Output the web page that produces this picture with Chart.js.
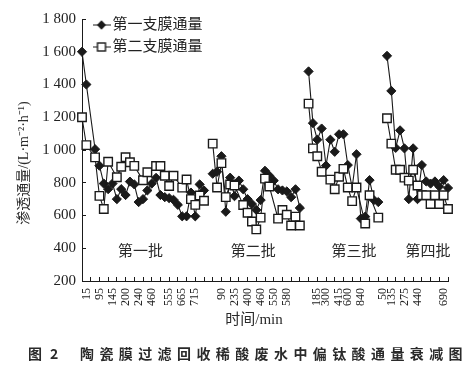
<!DOCTYPE html>
<html>
<head>
<meta charset="utf-8">
<script src="https://cdn.jsdelivr.net/npm/chart.js@4.4.1/dist/chart.umd.min.js"></script>
<style>
html, body { margin: 0; padding: 0; background: #fff; }
#wrap { width: 469px; height: 375px; }
</style>
</head>
<body>
<div id="wrap"><canvas id="fluxChart" width="469" height="375"></canvas></div>
<script>
// series names and batch names
const seriesNames = ['第一支膜通量', '第二支膜通量'];
const batchNames = ['第一批', '第二批', '第三批', '第四批'];

// time labels shown under each batch (min)
const batchTimes = [
    ['15', '95', '145', '200', '240', '460', '555', '665', '715'],
    ['90', '235', '400', '460', '550', '580'],
    ['185', '300', '415', '600', '840'],
    ['50', '135', '275', '440', '690']
];

// flux of membrane 1, L/(m2*h), one array per batch
const flux1Batch1 = [1600, 1400, null, 1005, 904, 795, 761, 795, 700, 761, 725, 807, 790, 682, 700, 753, 795, 830, 725, 712, 706, 696, 665, 595, 595, 740, 595, 790, 753];
const flux1Batch2 = [855, 867, 962, 623, 831, 718, 813, 760, 700, 670, 634, 694, 873, 843, 813, 760, 753, 747, 712, 760, 646];
const flux1Batch3 = [1480, 1164, 1063, 1131, 905, 1063, 989, 1096, 1096, 908, 771, 974, 581, 593, 816, 694, 682];
const flux1Batch4 = [1575, 1361, 1013, 1120, 1010, 700, 1010, 700, 908, 808, 795, 808, 777, 816, 768];

// flux of membrane 2
const flux2Batch1 = [1200, 1030, null, 955, 720, 640, 928, null, 834, 898, 956, 925, 903, null, 815, 864, null, 902, 902, 843, 780, 843, null, 770, 820, 700, 665, 722, 690];
const flux2Batch2 = [1039, 771, 920, 712, 789, 783, null, 664, 617, 563, 515, 587, 825, 777, null, 581, 634, 605, 539, 593, 539];
const flux2Batch3 = [1283, 1010, 962, 867, null, 819, 760, 837, 885, 771, 688, 771, null, 551, 724, null, 587];
const flux2Batch4 = [1194, 1039, 879, 879, 831, 813, 879, 783, 724, 724, 670, 724, 670, 724, 640];

const yTicks = [200, 400, 600, 800, 1000, 1200, 1400, 1600, 1800];

const xTitle = '时间/min';
const yTitle = '渗透通量/(L·m⁻²·h⁻¹)';
const figureNo = ['图', '2'];
const captionText = '陶瓷膜过滤回收稀酸废水中偏钛酸通量衰减图';

const flux1 = [flux1Batch1, flux1Batch2, flux1Batch3, flux1Batch4];
const flux2 = [flux2Batch1, flux2Batch2, flux2Batch3, flux2Batch4];

// batches sit on one category axis, one empty category between them
const starts = [];
let total = 0;
flux1.forEach((arr, b) => {
    if (b > 0) total += 1;
    starts.push(total);
    total += arr.length;
});

// where the time labels fall inside each batch (category offsets)
const labelSlots = [
    [1, 4, 7, 10, 13, 16, 20, 23, 26],
    [2, 5, 8, 11, 14, 17],
    [2, 4, 7, 9, 12],
    [-1, 1, 4, 7, 13]
];
const categories = new Array(total).fill('');
batchTimes.forEach((times, b) => {
    times.forEach((t, k) => { categories[starts[b] + labelSlots[b][k]] = t; });
});

const inBatch = (i) => flux1.some((arr, b) => i >= starts[b] && i < starts[b] + arr.length);

const spread = (arr, b) => {
    const out = new Array(total).fill(null);
    arr.forEach((v, i) => { out[starts[b] + i] = v; });
    return out;
};

const SERIF = "'Liberation Serif', 'Noto Sans CJK SC', serif";
const INK = '#1a1a1a';

const datasets = [];
flux2.forEach((arr, b) => {
    datasets.push({
        label: seriesNames[1],
        data: spread(arr, b),
        borderColor: INK,
        borderWidth: 1.1,
        pointStyle: 'rect',
        pointRadius: 6,
        pointBackgroundColor: '#fff',
        pointBorderColor: INK,
        pointBorderWidth: 1.4,
        spanGaps: true,
        order: 0
    });
});
flux1.forEach((arr, b) => {
    datasets.push({
        label: seriesNames[0],
        data: spread(arr, b),
        borderColor: INK,
        borderWidth: 1.1,
        pointStyle: 'rectRot',
        pointRadius: 4.6,
        pointBackgroundColor: INK,
        pointBorderColor: INK,
        pointBorderWidth: 1,
        spanGaps: true,
        order: 1
    });
});

// small legend icons: line with marker
const makeIcon = (square) => {
    const c = document.createElement('canvas');
    c.width = 18; c.height = 12;
    const g = c.getContext('2d');
    g.strokeStyle = INK;
    g.lineWidth = 1;
    g.beginPath(); g.moveTo(0, 6); g.lineTo(18, 6); g.stroke();
    if (square) {
        g.fillStyle = '#fff';
        g.fillRect(5, 2, 8, 8);
        g.lineWidth = 1.4;
        g.strokeRect(5, 2, 8, 8);
    } else {
        g.fillStyle = INK;
        g.beginPath(); g.moveTo(9, 1.2); g.lineTo(13.5, 6); g.lineTo(9, 10.8); g.lineTo(4.5, 6); g.closePath(); g.fill();
    }
    return c;
};
const legendIcons = [makeIcon(false), makeIcon(true)];

// legend goes into the top left corner of the plot
const legendPlacer = {
    id: 'legendPlacer',
    afterLayout(chart) {
        const lg = chart.legend;
        if (!lg) return;
        lg.left = chart.chartArea.left + 9;
        lg.top = chart.chartArea.top - 8.5;
    }
};

// batch names, axis titles and the figure caption
const textPlugin = {
    id: 'fluxTexts',
    afterDraw(chart) {
        const {ctx, scales: {x, y}} = chart;
        const batchLabelAt = [13.4, 39.3, 62.4, 79.4];
        ctx.save();
        ctx.fillStyle = '#2a2a2a';
        ctx.textBaseline = 'middle';
        ctx.textAlign = 'center';
        ctx.font = "15px 'Noto Sans CJK SC'";
        batchNames.forEach((name, b) => {
            ctx.fillText(name, x.getPixelForValue(batchLabelAt[b]), y.getPixelForValue(390));
        });

        ctx.font = '15px ' + SERIF;
        ctx.fillText(xTitle, 254, 320);

        ctx.save();
        ctx.translate(24, 163);
        ctx.rotate(-Math.PI / 2);
        ctx.font = '14px ' + SERIF;
        ctx.fillText(yTitle, 0, 0);
        ctx.restore();

        ctx.textAlign = 'left';
        ctx.font = "bold 14px 'Noto Sans CJK SC'";
        ctx.fillText(figureNo[0], 28, 354);
        ctx.fillText(figureNo[1], 50, 354);
        let cx = 80;
        for (const ch of captionText) {
            ctx.fillText(ch, cx, 354);
            cx += 19.4;
        }
        ctx.restore();
    }
};

const ctx = document.getElementById('fluxChart').getContext('2d');
const fluxChart = new Chart(ctx, {
    type: 'line',
    data: { labels: categories, datasets: datasets },
    options: {
        responsive: false,
        animation: false,
        events: [],
        devicePixelRatio: 1,
        layout: { padding: { top: 12, right: 21, bottom: 0, left: 0 } },
        scales: {
            x: {
                type: 'category',
                offset: false,
                afterFit: (s) => { s.height = 94; s.paddingLeft = 0; s.paddingRight = 0; },
                border: { color: INK, width: 1 },
                grid: {
                    drawOnChartArea: false,
                    drawTicks: true,
                    tickLength: -4,
                    lineWidth: 1,
                    tickColor: (c) => (c.index % 2 === 0 && inBatch(c.index)) ? INK : 'rgba(0,0,0,0)'
                },
                ticks: {
                    autoSkip: false,
                    minRotation: 90,
                    maxRotation: 90,
                    padding: 11,
                    color: '#222',
                    font: { family: SERIF, size: 12 }
                }
            },
            y: {
                min: 200,
                max: 1800,
                afterFit: (s) => { s.width = 82; },
                afterBuildTicks: (s) => { s.ticks = yTicks.map(v => ({ value: v })); },
                border: { color: INK, width: 1 },
                grid: {
                    drawOnChartArea: false,
                    drawTicks: true,
                    tickLength: -4,
                    color: INK
                },
                ticks: {
                    padding: 10,
                    color: '#222',
                    font: { family: SERIF, size: 15 },
                    callback: (v) => v >= 1000 ? Math.floor(v / 1000) + ' ' + String(v % 1000).padStart(3, '0') : String(v)
                }
            }
        },
        plugins: {
            tooltip: { enabled: false },
            legend: {
                position: 'chartArea',
                align: 'start',
                labels: {
                    usePointStyle: true,
                    boxWidth: 7,
                    boxHeight: 7,
                    padding: 7,
                    color: '#222',
                    font: { family: SERIF, size: 15 },
                    generateLabels: () => seriesNames.map((name, i) => ({
                        text: name,
                        pointStyle: legendIcons[i],
                        fillStyle: INK,
                        strokeStyle: INK,
                        lineWidth: 0,
                        hidden: false,
                        fontColor: '#222',
                        datasetIndex: i
                    }))
                }
            }
        }
    },
    plugins: [legendPlacer, textPlugin]
});
</script>
</body>
</html>
